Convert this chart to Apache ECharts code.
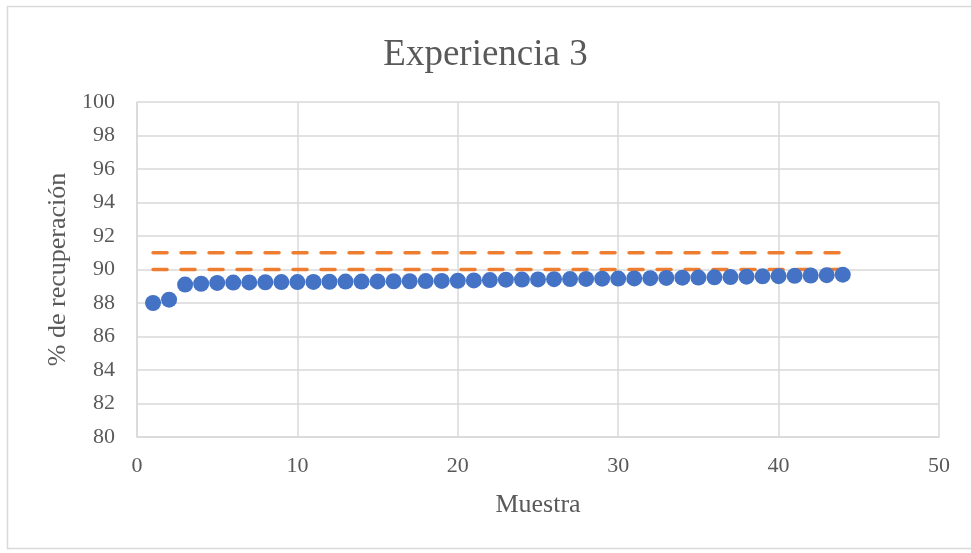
<!DOCTYPE html>
<html>
<head>
<meta charset="utf-8">
<script src="https://cdn.jsdelivr.net/npm/echarts@6/dist/echarts.min.js"></script>
<style>
  html, body { margin: 0; padding: 0; background: #ffffff; }
  #chart { width: 971px; height: 553px; }
</style>
</head>
<body>
<div id="chart"></div>
<script>
// Sample numbers (Muestra)
const muestras = [1,2,3,4,5,6,7,8,9,10,11,12,13,14,15,16,17,18,19,20,21,22,23,24,25,26,27,28,29,30,31,32,33,34,35,36,37,38,39,40,41,42,43,44];
// Recovery percentage per sample
const recuperacion = [
  88.00, 88.20, 89.10, 89.15, 89.20, 89.22, 89.23, 89.24, 89.25, 89.25,
  89.26, 89.27, 89.28, 89.28, 89.29, 89.30, 89.30, 89.31, 89.32, 89.33,
  89.35, 89.37, 89.39, 89.40, 89.41, 89.42, 89.43, 89.44, 89.45, 89.46,
  89.47, 89.48, 89.50, 89.51, 89.52, 89.53, 89.55, 89.57, 89.59, 89.60,
  89.62, 89.64, 89.66, 89.69
];
// Reference limits
const limiteInferior = 90;
const limiteSuperior = 91;

const puntos = muestras.map((m, i) => [m, recuperacion[i]]);
const lineaInf = muestras.map(m => [m, limiteInferior]);
const lineaSup = muestras.map(m => [m, limiteSuperior]);

const serif = '"Liberation Serif", "Times New Roman", serif';
const textColor = '#595959';
const gridColor = '#d9d9d9';

const chart = echarts.init(document.getElementById('chart'), null, { renderer: 'canvas' });
chart.setOption({
  animation: false,
  backgroundColor: '#ffffff',
  graphic: [{
    type: 'rect',
    shape: { x: 7.5, y: 6.5, width: 990, height: 542 },
    style: { fill: 'none', stroke: '#d9d9d9', lineWidth: 1.5 },
    silent: true, z: -1
  }],
  title: {
    text: 'Experiencia 3',
    left: 'center',
    top: 32,
    textStyle: { fontFamily: serif, fontSize: 37, fontWeight: 'normal', color: textColor }
  },
  grid: { left: 137, right: 32, top: 102, bottom: 116 },
  xAxis: {
    type: 'value',
    min: 0, max: 50, interval: 10,
    name: 'Muestra',
    nameLocation: 'middle',
    nameGap: 55,
    nameTextStyle: { fontFamily: serif, fontSize: 26, color: textColor },
    axisLine: { show: true, lineStyle: { color: gridColor, width: 1.5 } },
    axisTick: { show: false },
    axisLabel: { fontFamily: serif, fontSize: 22, color: textColor, margin: 18 },
    splitLine: { show: true, lineStyle: { color: gridColor, width: 1.5 } }
  },
  yAxis: {
    type: 'value',
    min: 80, max: 100, interval: 2,
    name: '% de recuperación',
    nameLocation: 'middle',
    nameGap: 61,
    nameTextStyle: { fontFamily: serif, fontSize: 26, color: textColor },
    axisLine: { show: true, lineStyle: { color: gridColor, width: 1.5 } },
    axisTick: { show: false },
    axisLabel: { fontFamily: serif, fontSize: 22, color: textColor, margin: 22 },
    splitLine: { show: true, lineStyle: { color: gridColor, width: 1.5 } }
  },
  series: [
    {
      name: 'Límite superior',
      type: 'line',
      data: lineaSup,
      showSymbol: false,
      symbol: 'none',
      lineStyle: { color: '#ED7D31', width: 3.5, type: [14, 14], cap: 'round' },
      z: 2
    },
    {
      name: 'Límite inferior',
      type: 'line',
      data: lineaInf,
      showSymbol: false,
      symbol: 'none',
      lineStyle: { color: '#ED7D31', width: 3.5, type: [14, 14], cap: 'round' },
      z: 2
    },
    {
      name: '% de recuperación',
      type: 'scatter',
      data: puntos,
      symbol: 'circle',
      symbolSize: 16,
      itemStyle: { color: '#4472C4', opacity: 1 },
      z: 3
    }
  ]
});
</script>
</body>
</html>
